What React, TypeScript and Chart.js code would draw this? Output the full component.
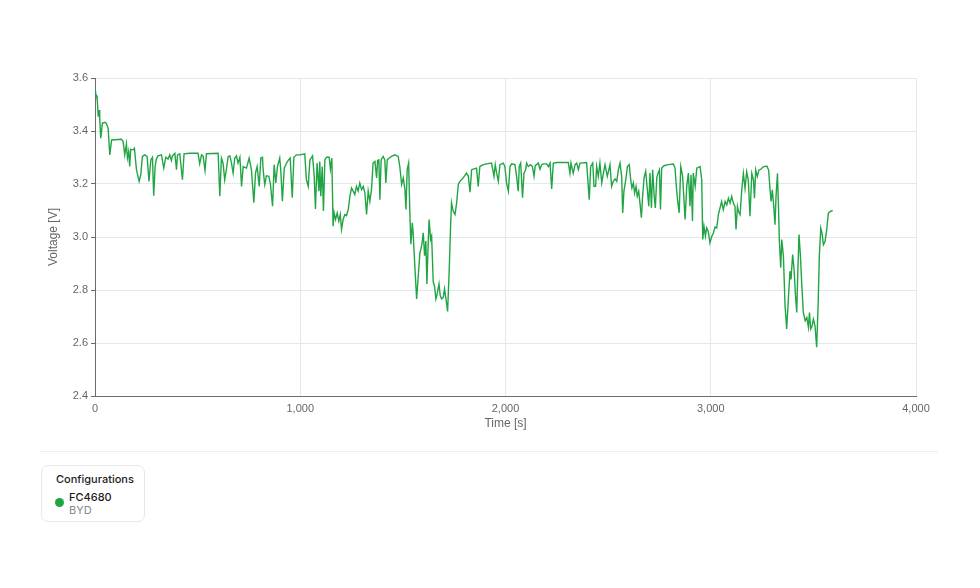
import { useEffect, useRef } from 'react'
import { Chart, registerables } from 'chart.js'

Chart.register(...registerables)

// time [s] and voltage [V]
const timeSec = [
  0, 3, 10, 16, 20, 23, 28, 36, 47, 55, 64, 72, 81, 129, 137, 145, 153, 158, 164, 169, 174,
  186, 192, 202, 215, 223, 231, 242, 254, 263, 272, 280, 286, 293, 299, 307, 324, 335, 345, 356, 364,
  372, 377, 389, 397, 402, 413, 426, 434, 462, 502, 510, 519, 527, 536, 543, 600, 608, 616, 624, 632,
  640, 649, 657, 665, 673, 681, 689, 697, 706, 714, 722, 738, 751, 762, 774, 782, 790, 800, 808, 816,
  819, 827, 835, 847, 855, 865, 873, 881, 889, 900, 905, 913, 922, 933, 943, 951, 961, 969, 982,
  998, 1022, 1030, 1039, 1047, 1060, 1068, 1074, 1082, 1091, 1095, 1100, 1107, 1113, 1120, 1128, 1141, 1147, 1154, 1160,
  1165, 1172, 1180, 1188, 1195, 1201, 1209, 1217, 1225, 1234, 1242, 1250, 1258, 1266, 1274, 1282, 1290, 1299, 1307, 1315,
  1323, 1331, 1339, 1347, 1355, 1364, 1372, 1377, 1383, 1388, 1394, 1404, 1412, 1417, 1424, 1433, 1445, 1461, 1477, 1485,
  1494, 1502, 1510, 1515, 1521, 1528, 1534, 1539, 1546, 1550, 1559, 1567, 1575, 1583, 1588, 1594, 1599, 1606, 1612, 1617,
  1624, 1628, 1635, 1640, 1648, 1654, 1661, 1667, 1676, 1682, 1689, 1697, 1703, 1710, 1718, 1726, 1732, 1737, 1745, 1754,
  1762, 1770, 1778, 1794, 1810, 1819, 1827, 1835, 1843, 1859, 1867, 1875, 1892, 1908, 1932, 1944, 1950, 1957, 1965, 1973,
  1989, 1997, 2005, 2014, 2022, 2030, 2046, 2054, 2062, 2067, 2074, 2083, 2090, 2098, 2103, 2111, 2122, 2131, 2139, 2145,
  2160, 2168, 2176, 2184, 2200, 2209, 2217, 2225, 2233, 2249, 2306, 2314, 2319, 2330, 2339, 2347, 2355, 2363, 2395, 2408,
  2415, 2425, 2431, 2439, 2444, 2452, 2460, 2469, 2477, 2485, 2496, 2509, 2517, 2525, 2534, 2542, 2550, 2558, 2566, 2571,
  2577, 2586, 2594, 2603, 2610, 2616, 2623, 2629, 2636, 2642, 2649, 2655, 2662, 2668, 2675, 2683, 2691, 2698, 2704, 2711,
  2717, 2724, 2730, 2737, 2743, 2750, 2755, 2761, 2772, 2794, 2818, 2826, 2831, 2838, 2846, 2854, 2863, 2875, 2883, 2891,
  2899, 2904, 2911, 2915, 2924, 2932, 2948, 2956, 2961,
  2967, 2974, 2980, 2988, 2996, 3005, 3013, 3021, 3029, 3037, 3045, 3053, 3061, 3070, 3078, 3086, 3094, 3102, 3110, 3118,
  3123, 3130, 3135, 3143, 3151, 3159, 3167, 3175, 3183, 3191, 3200, 3208, 3213, 3219, 3227, 3235, 3243, 3256, 3273, 3282,
  3289, 3294, 3300, 3307, 3313, 3318, 3325, 3330, 3334, 3341, 3346, 3354, 3362, 3370, 3378, 3386, 3391, 3399, 3406, 3412,
  3419, 3424, 3430, 3437, 3443, 3451, 3460, 3468, 3476, 3481, 3487, 3494, 3500, 3508, 3516, 3523, 3529, 3536, 3542, 3549,
  3557, 3565, 3573, 3581, 3594,
]

const voltage = [
  3.55, 3.54, 3.53, 3.454, 3.479, 3.448, 3.373, 3.429, 3.433, 3.429, 3.41, 3.31, 3.366, 3.369, 3.36, 3.31, 3.351, 3.298, 3.323, 3.266, 3.331,
  3.329, 3.335, 3.254, 3.21, 3.235, 3.304, 3.31, 3.304, 3.21, 3.291, 3.301, 3.156, 3.266, 3.294, 3.306, 3.31, 3.26, 3.301, 3.294, 3.31,
  3.289, 3.306, 3.316, 3.254, 3.31, 3.314, 3.216, 3.314, 3.316, 3.316, 3.276, 3.31, 3.304, 3.251, 3.314, 3.316, 3.154, 3.298, 3.279, 3.216,
  3.254, 3.304, 3.306, 3.279, 3.241, 3.298, 3.306, 3.279, 3.301, 3.191, 3.266, 3.26, 3.298, 3.254, 3.129, 3.241, 3.266, 3.191, 3.298, 3.301,
  3.254, 3.198, 3.231, 3.229, 3.198, 3.116, 3.273, 3.204, 3.266, 3.298, 3.254, 3.135, 3.26, 3.279, 3.291, 3.298, 3.148, 3.301, 3.31,
  3.31, 3.314, 3.216, 3.191, 3.291, 3.306, 3.229, 3.106, 3.279, 3.173, 3.285, 3.154, 3.266, 3.098, 3.291, 3.301, 3.301, 3.256, 3.298, 3.041,
  3.091, 3.066, 3.091, 3.06, 3.085, 3.029, 3.066, 3.085, 3.081, 3.104, 3.154, 3.185, 3.173, 3.16, 3.191, 3.173, 3.204, 3.179, 3.191, 3.166,
  3.085, 3.173, 3.135, 3.179, 3.279, 3.285, 3.223, 3.289, 3.291, 3.141, 3.291, 3.304, 3.291, 3.204, 3.291, 3.298, 3.304, 3.31, 3.304, 3.266,
  3.198, 3.223, 3.179, 3.104, 3.254, 3.279, 3.091, 2.973, 3.054, 3.016, 2.879, 2.766, 2.854, 2.941, 2.954, 2.979, 3.016, 2.929, 2.985, 2.823,
  2.991, 3.066, 2.991, 3.004, 2.829, 2.816, 2.766, 2.785, 2.823, 2.779, 2.766, 2.773, 2.804, 2.766, 2.719, 2.879, 3.029, 3.129, 3.098, 3.085,
  3.129, 3.198, 3.21, 3.223, 3.241, 3.229, 3.169, 3.254, 3.256, 3.26, 3.191, 3.266, 3.273, 3.276, 3.279, 3.229, 3.273, 3.241, 3.21, 3.273,
  3.279, 3.266, 3.204, 3.173, 3.266, 3.276, 3.273, 3.229, 3.173, 3.266, 3.279, 3.148, 3.241, 3.254, 3.279, 3.266, 3.273, 3.266, 3.229, 3.269,
  3.279, 3.256, 3.273, 3.276, 3.276, 3.266, 3.279, 3.181, 3.279, 3.281, 3.281, 3.241, 3.279, 3.241, 3.273, 3.279, 3.254, 3.279, 3.281, 3.141,
  3.266, 3.279, 3.191, 3.191, 3.266, 3.229, 3.279, 3.204, 3.241, 3.273, 3.229, 3.273, 3.191, 3.21, 3.219, 3.21, 3.254, 3.279, 3.229, 3.091,
  3.173, 3.216, 3.266, 3.273, 3.216, 3.185, 3.204, 3.166, 3.191, 3.154, 3.173, 3.129, 3.073, 3.154, 3.223, 3.248, 3.179, 3.116, 3.241, 3.11,
  3.254, 3.16, 3.11, 3.223, 3.241, 3.254, 3.104, 3.26, 3.269, 3.273, 3.275, 3.26, 3.204, 3.141, 3.091, 3.266, 3.229, 3.066, 3.191, 3.241,
  3.116, 3.235, 3.06, 3.241, 3.191, 3.26, 3.266, 3.216, 2.991,
  3.04, 3.003, 3.034, 3.021, 2.978, 3.003, 3.015, 3.038, 3.034, 3.084, 3.109, 3.134, 3.103, 3.134, 3.121, 3.146, 3.128, 3.153, 3.128, 3.115,
  3.028, 3.115, 3.096, 3.084, 3.178, 3.24, 3.184, 3.246, 3.215, 3.078, 3.24, 3.215, 3.146, 3.253, 3.228, 3.253, 3.255, 3.265, 3.268, 3.253,
  3.178, 3.134, 3.178, 3.115, 3.046, 3.153, 3.24, 3.115, 2.99, 2.884, 2.99, 2.928, 2.74, 2.653, 2.765, 2.871, 2.84, 2.934, 2.878, 2.79,
  2.715, 2.865, 3.009, 2.928, 2.828, 2.715, 2.684, 2.696, 2.659, 2.715, 2.653, 2.665, 2.69, 2.665, 2.584, 2.74, 2.928, 3.034, 3.015, 2.971,
  2.984, 3.028, 3.09, 3.096, 3.1,
]

const xTicks = [0, 1000, 2000, 3000, 4000]
const yTicks = [2.4, 2.6, 2.8, 3.0, 3.2, 3.4, 3.6]

const legendTitle = 'Configurations'
const seriesName = 'FC4680'
const seriesMaker = 'BYD'
const lineColor = '#21a544'
const axisFont = '"Liberation Sans", Arial, sans-serif'
const uiFont = 'Inter, "Noto Sans", sans-serif'

export default function App() {
  const ref = useRef(null)

  useEffect(() => {
    const chart = new Chart(ref.current, {
      type: 'line',
      data: {
        datasets: [
          {
            label: seriesName,
            data: timeSec.map((t, i) => ({ x: t, y: voltage[i] })),
            borderColor: lineColor,
            borderWidth: 1.4,
            pointRadius: 0,
            tension: 0,
            fill: false,
          },
        ],
      },
      options: {
        animation: false,
        responsive: false,
        layout: { padding: { left: 42, top: 78, right: 64, bottom: 15 } },
        plugins: { legend: { display: false }, tooltip: { enabled: false } },
        scales: {
          x: {
            type: 'linear',
            min: xTicks[0],
            max: xTicks[xTicks.length - 1],
            afterBuildTicks: (s) => {
              s.ticks = xTicks.map((v) => ({ value: v }))
            },
            afterFit: (s) => {
              s.height = 39
            },
            ticks: {
              color: '#666',
              padding: 6,
              maxRotation: 0,
              font: { family: axisFont, size: 11 },
              callback: (v) => Number(v).toLocaleString('en-US'),
            },
            grid: { color: '#e3e8ef', drawTicks: false },
            border: { color: '#6b6b6b' },
            title: {
              display: true,
              text: 'Time [s]',
              color: '#666',
              font: { family: axisFont, size: 12 },
            },
          },
          y: {
            min: yTicks[0],
            max: yTicks[yTicks.length - 1],
            afterBuildTicks: (s) => {
              s.ticks = yTicks.map((v) => ({ value: v }))
            },
            afterFit: (s) => {
              s.width = 53
            },
            ticks: {
              color: '#666',
              padding: 3,
              font: { family: axisFont, size: 11 },
              callback: (v) => Number(v).toFixed(1),
            },
            grid: { color: '#e3e8ef', tickColor: '#6b6b6b', tickLength: 4 },
            border: { color: '#6b6b6b' },
            title: {
              display: true,
              text: 'Voltage [V]',
              color: '#666',
              font: { family: axisFont, size: 12 },
            },
          },
        },
      },
    })
    return () => chart.destroy()
  }, [])

  return (
    <div style={{ position: 'fixed', left: 0, top: 0, width: 980, height: 588, background: '#fff' }}>
      <canvas ref={ref} width={980} height={450} style={{ position: 'absolute', left: 0, top: 0 }}></canvas>
      <div style={{ position: 'absolute', left: 40, top: 451, width: 898, height: 1, background: '#eceff2' }}></div>
      <div
        style={{
          position: 'absolute',
          left: 41,
          top: 465,
          width: 102,
          height: 55,
          border: '1px solid #e6e8eb',
          borderRadius: 7,
          fontFamily: uiFont,
          fontSize: 11,
        }}
      >
        <div style={{ position: 'absolute', left: 14, top: 6, color: '#1c1c1c', fontWeight: 500 }}>{legendTitle}</div>
        <div
          style={{
            position: 'absolute',
            left: 13,
            top: 32,
            width: 9,
            height: 9,
            borderRadius: '50%',
            background: lineColor,
          }}
        ></div>
        <div style={{ position: 'absolute', left: 27, top: 24, color: '#1c1c1c', fontWeight: 500 }}>{seriesName}</div>
        <div style={{ position: 'absolute', left: 27, top: 37, color: '#888' }}>{seriesMaker}</div>
      </div>
    </div>
  )
}
